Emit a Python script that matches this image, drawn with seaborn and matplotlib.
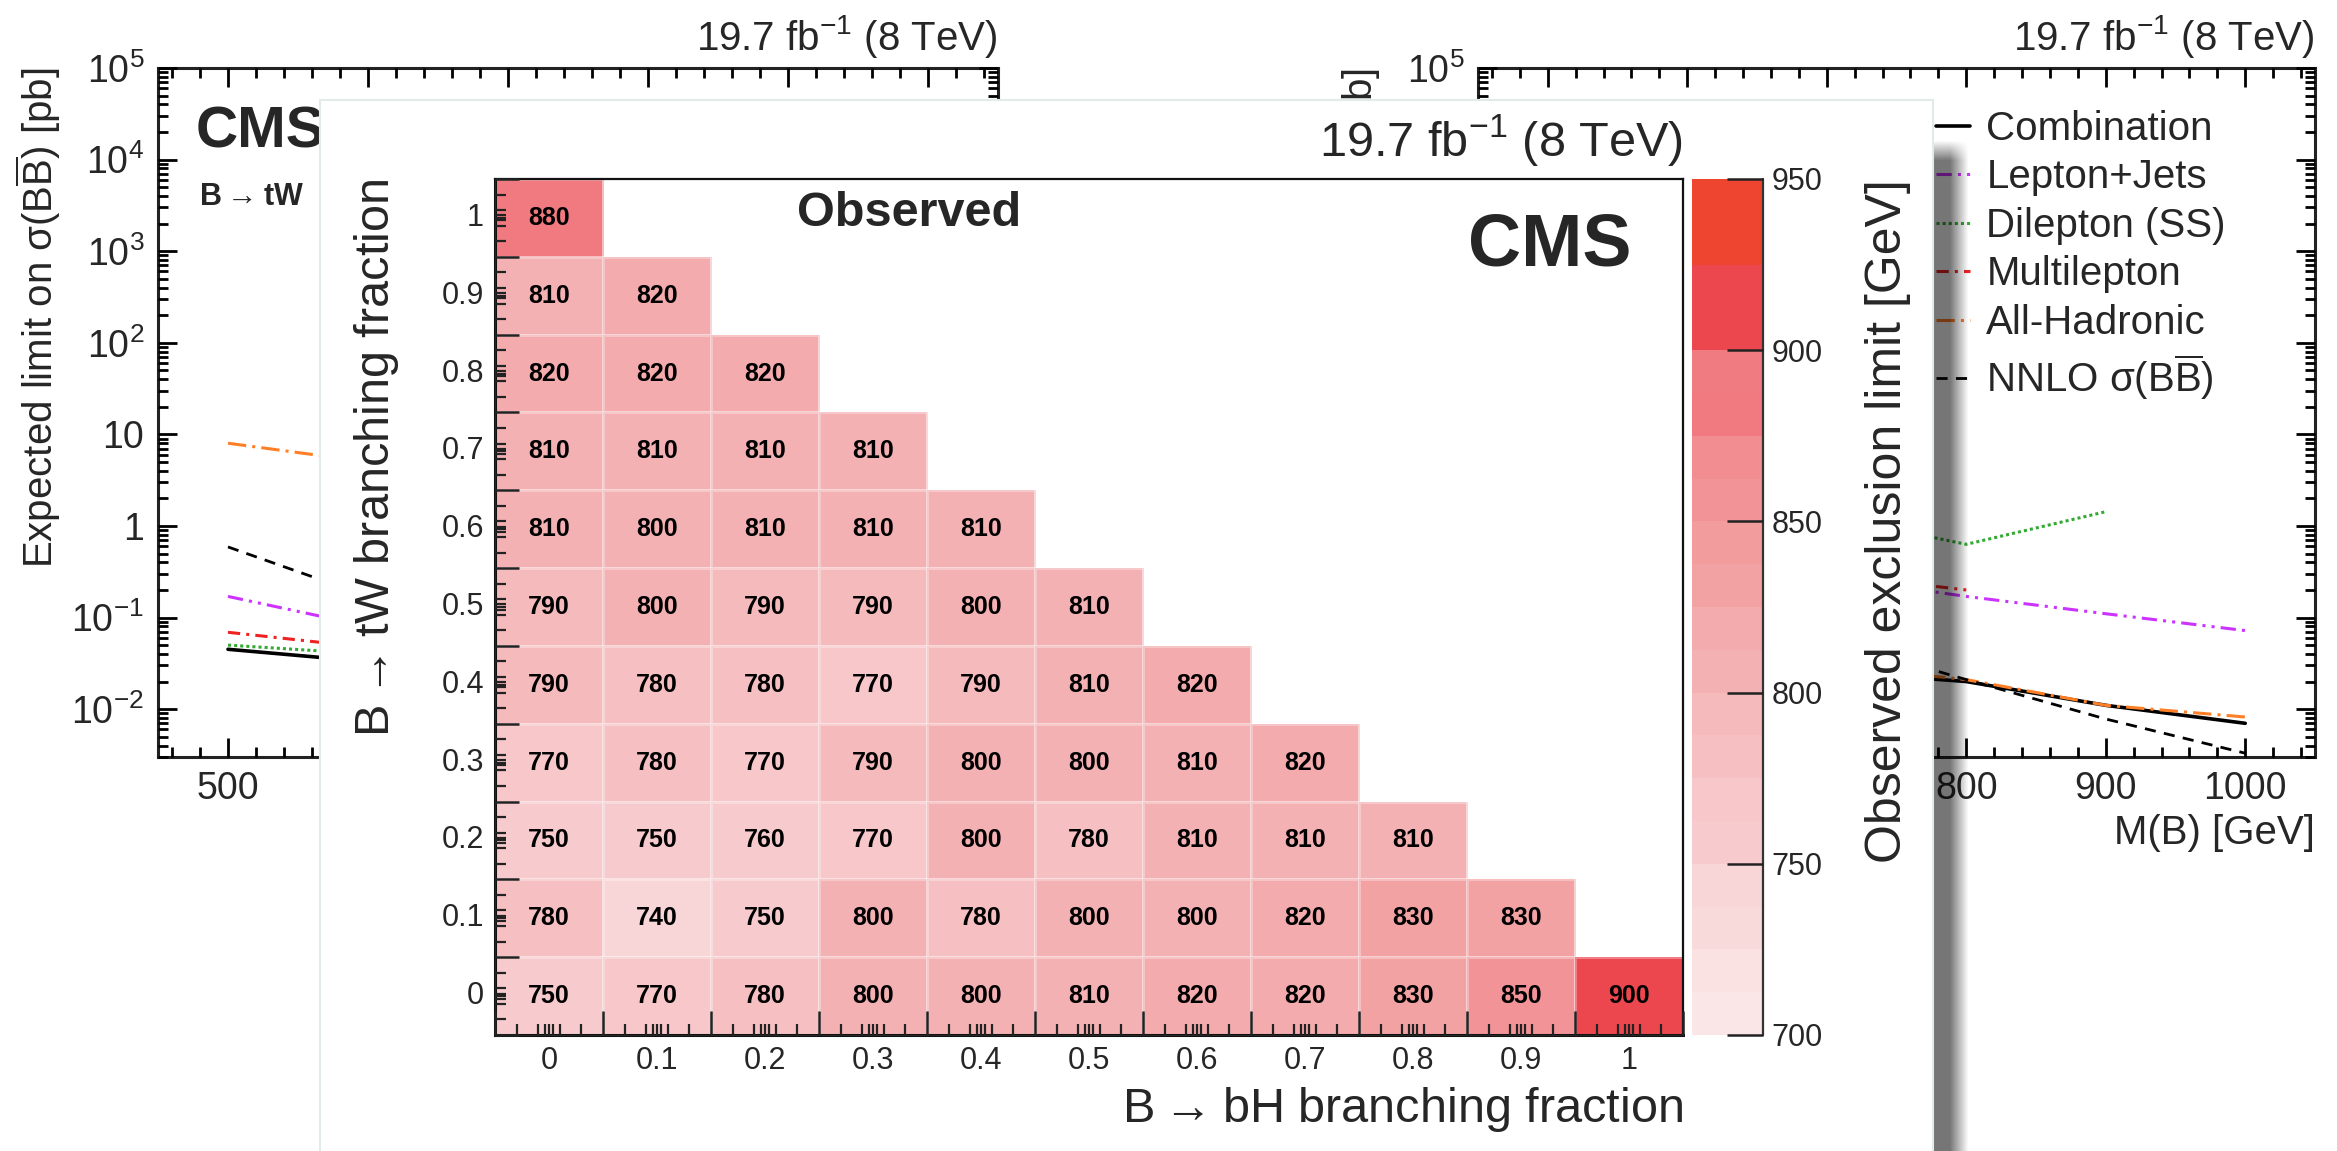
import numpy as np
import pandas as pd
import matplotlib
matplotlib.use("Agg")
import matplotlib.pyplot as plt
from matplotlib.colors import ListedColormap, BoundaryNorm
from matplotlib.patches import Rectangle
from matplotlib.ticker import (FixedLocator, LogLocator, FuncFormatter,
                               NullFormatter, NullLocator, MultipleLocator)
import seaborn as sns

# ---- heatmap data: observed exclusion limit [GeV] ----
bh_labels = ["0", "0.1", "0.2", "0.3", "0.4", "0.5", "0.6", "0.7", "0.8", "0.9", "1"]
tw_labels = ["0", "0.1", "0.2", "0.3", "0.4", "0.5", "0.6", "0.7", "0.8", "0.9", "1"]
# one row per B->tW fraction (0 ... 1), entries for B->bH = 0, 0.1, ...
obs_limit = [
    [750, 770, 780, 800, 800, 810, 820, 820, 830, 850, 900],
    [780, 740, 750, 800, 780, 800, 800, 820, 830, 830],
    [750, 750, 760, 770, 800, 780, 810, 810, 810],
    [770, 780, 770, 790, 800, 800, 810, 820],
    [790, 780, 780, 770, 790, 810, 820],
    [790, 800, 790, 790, 800, 810],
    [810, 800, 810, 810, 810],
    [810, 810, 810, 810],
    [820, 820, 820],
    [810, 820],
    [880],
]
cbar_ticks = [700, 750, 800, 850, 900, 950]
palette = ["#FBE6E7", "#FAE2E3", "#F8DADB", "#F8D5D6", "#F7CBCD", "#F7C7C9",
           "#F6C0C2", "#F5BABB", "#F4B1B3", "#F3ABAD", "#F3A2A4", "#F29C9E",
           "#F29497", "#F28E91", "#F07A7F", "#F07B80", "#EC474F", "#EC474F",
           "#EE4530", "#EE4530"]

# ---- background plots: limits on sigma(BB) [pb] ----
mass = [500, 600, 700, 800, 900, 1000]
exp_comb = [0.045, 0.033, 0.026, 0.021, 0.018, 0.016]
exp_ljets = [0.17, 0.08, 0.05, 0.04, 0.033, 0.03]
exp_ss = [0.050, 0.040, 0.05, 0.06, 0.07, 0.08]
exp_multi = [0.069, 0.047, 0.04, 0.035, 0.03, 0.03]
exp_had = [8.0, 5.0, 2.0, 1.0, 0.6, 0.4]
nnlo_xsec = [0.59, 0.17, 0.058, 0.021, 0.0078, 0.0033]

obs_mass = [700, 800, 900, 1000]
obs_comb = [0.026, 0.020, 0.011, 0.007]
obs_ljets = [0.28, 0.17, 0.11, 0.072]
obs_ss = [1.3, 0.63, 1.43, np.nan]
obs_multi = [0.3, 0.2, np.nan, np.nan]
obs_had = [0.03, 0.021, 0.011, 0.0082]
obs_nnlo = [0.058, 0.021, 0.0078, 0.0033]

sns.set_style("ticks")
plt.rcParams["font.family"] = ["Liberation Sans", "DejaVu Sans"]
plt.rcParams["mathtext.fontset"] = "custom"
plt.rcParams["mathtext.rm"] = "Liberation Sans"
plt.rcParams["mathtext.bf"] = "Liberation Sans:bold"
plt.rcParams["axes.axisbelow"] = False

W, H = 2337, 1151
fig = plt.figure(figsize=(W / 100, H / 100), dpi=100)


def rect(l, t, r, b):
    return [l / W, 1 - b / H, (r - l) / W, (b - t) / H]


def log_label(v, pos):
    e = int(round(np.log10(v)))
    if e == 0:
        return "1"
    if e == 1:
        return "10"
    return r"$\mathregular{10^{%d}}$" % e


bbar = r"$\mathregular{\overline{B}}$"
lumi = r"19.7 fb$^{\mathregular{-1}}$ (8 TeV)"
arrow = r"$\rightarrow$"

styles = {
    "Combination": dict(color="black", ls="-", lw=2.6),
    "Lepton+Jets": dict(color="#CC33FF", ls=(0, (5, 2, 1, 2, 1, 2)), lw=2.2),
    "Dilepton (SS)": dict(color="#33AA33", ls=(0, (1, 1)), lw=2.2),
    "Multilepton": dict(color="#EE2222", ls=(0, (4, 2, 1, 2)), lw=2.2),
    "All-Hadronic": dict(color="#FF7F27", ls=(0, (6, 2, 1, 2)), lw=2.2),
    "NNLO σ(B" + bbar + ")": dict(color="black", ls=(0, (4, 3)), lw=2.0),
}


def root_frame(ax, ylabel):
    ax.set_yscale("log")
    ax.set_xlim(450, 1050)
    ax.set_ylim(3e-3, 1e5)
    ax.xaxis.set_major_locator(MultipleLocator(100))
    ax.xaxis.set_minor_locator(MultipleLocator(20))
    ax.yaxis.set_major_locator(LogLocator(base=10, numticks=30))
    ax.yaxis.set_minor_locator(LogLocator(base=10, subs=np.arange(2, 10), numticks=30))
    ax.yaxis.set_major_formatter(FuncFormatter(log_label))
    ax.yaxis.set_minor_formatter(NullFormatter())
    ax.tick_params(which="both", direction="in", top=True, right=True, bottom=True, left=True,
                   width=2.0, color="black")
    ax.tick_params(which="major", length=14, labelsize=27, pad=10)
    ax.tick_params(which="minor", length=7)
    for s in ax.spines.values():
        s.set_linewidth(2.2)
        s.set_color("#222222")
    ax.set_xlabel("M(B) [GeV]", fontsize=29, loc="right", va="center")
    ax.xaxis.set_label_coords(1.0, -0.11)
    ax.set_ylabel(ylabel, fontsize=29, loc="top", va="center")
    ax.yaxis.set_label_coords(-0.143, 1.0)
    ax.text(1.0, 1.046, lumi, transform=ax.transAxes, ha="right", va="center", fontsize=29)


# left background plot (expected)
ax1 = fig.add_axes(rect(158, 68, 998, 757))
root_frame(ax1, "Expected limit on σ(B" + bbar + ") [pb]")
for (name, st), ys in zip(styles.items(), [exp_comb, exp_ljets, exp_ss, exp_multi, exp_had, nnlo_xsec]):
    ax1.plot(mass, ys, color=st["color"], linestyle=st["ls"], lw=st["lw"])
ax1.text(0.045, 0.907, "CMS", transform=ax1.transAxes, fontsize=42, fontweight="bold", va="center")
ax1.text(0.049, 0.813, r"B$\mathbf{\rightarrow}$tW", transform=ax1.transAxes, fontsize=22,
         fontweight="bold", va="center")

# right background plot (observed)
ax2 = fig.add_axes(rect(1478, 68, 2315, 757))
root_frame(ax2, "Observed limit on σ(B" + bbar + ") [pb]")
for (name, st), ys in zip(styles.items(), [obs_comb, obs_ljets, obs_ss, obs_multi, obs_had, obs_nnlo]):
    ax2.plot(obs_mass, ys, color=st["color"], linestyle=st["ls"], lw=st["lw"], label=name)
ax2.legend(loc="upper left", bbox_to_anchor=(1936 / W, 1 - 110 / H), bbox_transform=fig.transFigure,
           frameon=False, fontsize=29, handlelength=0.85, handletextpad=0.4, borderpad=0,
           borderaxespad=0, labelspacing=0.26)

# overlay panel with drop shadow
ov = fig.add_axes([0, 0, 1, 1], zorder=1)
ov.patch.set_alpha(0)
ov.axis("off")
ov.add_patch(Rectangle((320, 100), 1613, 1080, facecolor="white", edgecolor="#E2EAEA", lw=1.5))
xs = np.arange(1933, 1970)
ys = np.arange(140, 1152)
ax_prof = np.clip((1969 - xs) / 19.0, 0, 1)
ay_prof = np.clip((ys - 140) / 20.0, 0, 1)
shade = np.zeros((len(ys), len(xs), 4))
shade[..., 3] = 0.54 * ay_prof[:, None] * ax_prof[None, :]
ov.imshow(shade, extent=(1933, 1969, 1151, 140), aspect="auto", interpolation="bilinear")
ov.set_xlim(0, W)
ov.set_ylim(H, 0)

# ---- main heatmap ----
grid = np.full((11, 11), np.nan)
for i, row in enumerate(obs_limit):
    grid[i, :len(row)] = row
df = pd.DataFrame(grid[::-1], index=tw_labels[::-1], columns=bh_labels)

ax = fig.add_axes(rect(495, 179, 1683, 1035), zorder=2)
cax = fig.add_axes(rect(1692, 179, 1763, 1035), zorder=2)
cmap = ListedColormap(palette)
norm = BoundaryNorm(np.linspace(700, 950, 21), cmap.N)
sns.heatmap(df, ax=ax, cbar_ax=cax, cmap=cmap, norm=norm, mask=df.isna(),
            annot=True, fmt=".0f",
            annot_kws={"fontsize": 18, "fontweight": "bold", "color": "black"},
            linewidths=1, linecolor=(1, 1, 1, 0.3),
            cbar_kws={"ticks": cbar_ticks})
ax.set_facecolor("white")
ax.set_axisbelow(False)

centers = np.arange(11) + 0.5
sub = np.concatenate([k + np.array([0.2, 0.4, 0.467, 0.533, 0.6, 0.8]) for k in range(11)])
ax.set_xticks(centers, labels=bh_labels)
ax.set_yticks(centers, labels=tw_labels[::-1])
ax.xaxis.set_minor_locator(FixedLocator(sub))
ax.yaxis.set_minor_locator(FixedLocator(sub))
ax.tick_params(which="both", direction="in", length=8, width=1.6, bottom=True, left=True,
               top=False, right=False, color="#222222")
ax.tick_params(which="major", labelsize=22, pad=8)
ax.tick_params(axis="x", labelrotation=0)
ax.tick_params(axis="y", labelrotation=0)
secx = ax.secondary_xaxis("bottom")
secx.set_zorder(5)
secx.set_xticks(np.arange(12))
secx.xaxis.set_minor_locator(NullLocator())
secx.tick_params(direction="in", length=17, width=1.8, labelbottom=False, color="#222222")
secy = ax.secondary_yaxis("left")
secy.set_zorder(5)
secy.set_yticks(np.arange(12))
secy.yaxis.set_minor_locator(NullLocator())
secy.tick_params(direction="in", length=17, width=1.8, labelleft=False, color="#222222")
for name, s in ax.spines.items():
    s.set_visible(True)
    s.set_color("#111111")
    s.set_linewidth(2.2 if name in ("left", "bottom") else 1.6)

ax.set_xlabel("B" + arrow + "bH branching fraction", fontsize=35, loc="right", va="center")
ax.xaxis.set_label_coords(1.0, -0.0876)
ax.set_ylabel("B" + arrow + "tW branching fraction", fontsize=35, loc="top", va="center")
ax.yaxis.set_label_coords(-0.1, 1.0)
ax.text(1.0, 1.0456, lumi, transform=ax.transAxes, ha="right", va="center", fontsize=35)
ax.text(0.3485, 0.960, "Observed", transform=ax.transAxes, ha="center", va="center",
        fontsize=35, fontweight="bold")
ax.text(0.957, 0.9217, "CMS", transform=ax.transAxes, ha="right", va="center",
        fontsize=53, fontweight="bold")

cbar = ax.collections[0].colorbar
cbar.outline.set_visible(False)
cbar.minorticks_off()
cax.set_axisbelow(False)
cax.tick_params(direction="in", length=26, width=1.8, labelsize=22, pad=6,
                right=True, left=False, color="#222222")
cax.plot([1, 1], [0, 1], transform=cax.transAxes, color="#333333", lw=1.6, clip_on=False)
cax.set_ylabel("Observed exclusion limit [GeV]", fontsize=36, loc="top")
cax.yaxis.set_label_coords(2.76, 1.0)
cax.yaxis.label.set_va("center")

fig.savefig("out.png", dpi=100)
